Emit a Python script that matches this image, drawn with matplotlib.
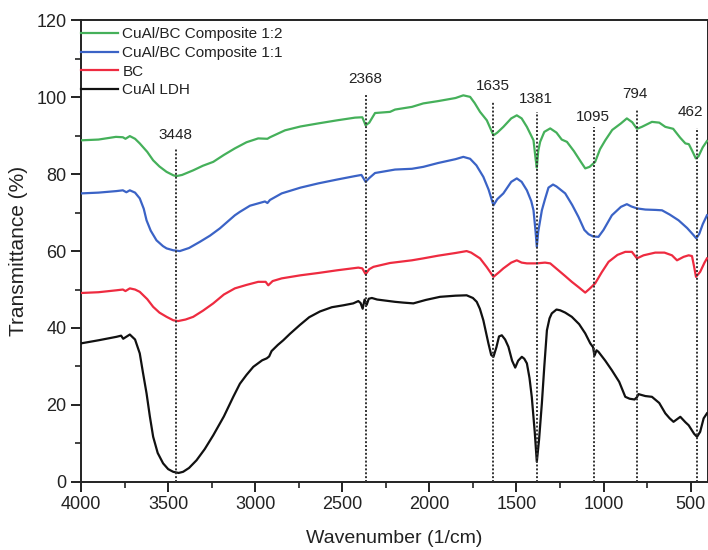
import matplotlib
matplotlib.use("Agg")
import matplotlib.pyplot as plt
from matplotlib.ticker import MultipleLocator

plt.rcParams['font.family'] = ['Liberation Sans', 'DejaVu Sans']

# ---------------- data ----------------
green_x = [4000, 3900, 3800, 3760, 3745, 3720, 3690, 3663, 3620, 3586, 3550, 3509, 3470, 3452, 3420,
           3356, 3300, 3241, 3180, 3117, 3050, 2983, 2930, 2915, 2829, 2740, 2638, 2530, 2427, 2385,
           2366, 2345, 2312, 2226, 2197, 2100, 2035, 1950, 1850, 1805, 1766, 1740, 1709, 1670, 1632,
           1610, 1575, 1530, 1498, 1470, 1440, 1415, 1402, 1390, 1383, 1375, 1364, 1340, 1306, 1270,
           1240, 1210, 1170, 1130, 1105, 1080, 1048, 1020, 990, 950, 900, 866, 835, 808, 780, 722,
           680, 645, 600, 560, 530, 510, 490, 470, 455, 430, 406]
green_y = [88.8, 89.0, 89.7, 89.6, 89.2, 89.9, 89.2, 88.0, 85.8, 83.6, 82.0, 80.6, 79.7, 79.5, 79.8,
           81.0, 82.2, 83.2, 85.0, 86.7, 88.3, 89.3, 89.2, 89.6, 91.4, 92.4, 93.2, 94.0, 94.7, 94.8,
           92.7, 93.4, 95.9, 96.2, 96.8, 97.5, 98.4, 99.0, 99.8, 100.5, 100.1, 98.5, 96.2, 94.0, 90.1,
           90.8, 92.3, 94.5, 95.3, 94.5, 92.3, 90.0, 88.8, 84.0, 81.7, 86.0, 88.4, 91.0, 91.9, 90.8,
           89.0, 88.4, 86.0, 83.2, 81.5, 81.9, 83.2, 86.5, 88.8, 91.5, 93.2, 94.5, 93.5, 91.8, 92.3, 93.6,
           93.4, 92.3, 91.8, 89.5, 88.0, 87.8, 86.0, 84.1, 84.6, 87.0, 88.6]

blue_x = [4000, 3900, 3797, 3760, 3740, 3720, 3690, 3663, 3640, 3624, 3600, 3567, 3530, 3509, 3470,
          3433, 3380, 3318, 3260, 3203, 3150, 3117, 3088, 3030, 2944, 2930, 2915, 2848, 2740, 2638,
          2530, 2427, 2390, 2366, 2345, 2312, 2197, 2100, 2035, 1950, 1850, 1805, 1766, 1730, 1690,
          1660, 1632, 1610, 1575, 1530, 1498, 1470, 1440, 1415, 1402, 1390, 1383, 1375, 1354, 1336,
          1316, 1290, 1270, 1220, 1180, 1144, 1110, 1086, 1060, 1029, 1000, 952, 900, 866, 840, 808,
          760, 700, 664, 620, 569, 520, 490, 467, 450, 430, 406]
blue_y = [75.0, 75.2, 75.6, 75.8, 75.3, 75.8, 75.2, 73.7, 71.0, 68.0, 65.3, 62.8, 61.3, 60.7, 60.2,
          60.0, 60.8, 62.4, 64.0, 65.9, 68.0, 69.3, 70.2, 71.8, 72.9, 72.5, 73.3, 75.0, 76.5, 77.6,
          78.6, 79.5, 79.8, 78.0, 79.0, 80.3, 81.2, 81.4, 81.9, 82.9, 83.9, 84.5, 84.0, 82.3, 79.3,
          76.0, 71.9, 73.5, 75.0, 78.0, 78.9, 78.0, 75.8, 73.0, 70.6, 65.0, 61.1, 65.0, 70.6, 73.5,
          76.5, 77.3, 76.8, 75.0, 72.0, 68.9, 65.5, 64.4, 63.8, 63.7, 65.5, 69.3, 71.5, 72.2, 71.6, 71.1,
          70.8, 70.7, 70.6, 69.5, 68.0, 66.0, 64.5, 63.3, 64.5, 67.0, 69.3]

red_x = [4000, 3900, 3797, 3760, 3745, 3720, 3690, 3663, 3620, 3586, 3550, 3509, 3470, 3443, 3400,
         3356, 3300, 3241, 3180, 3117, 3050, 2983, 2940, 2925, 2900, 2848, 2740, 2638, 2530, 2408,
         2385, 2366, 2345, 2321, 2226, 2100, 2035, 1950, 1850, 1786, 1760, 1709, 1670, 1632, 1600,
         1575, 1530, 1498, 1470, 1440, 1383, 1336, 1306, 1259, 1220, 1182, 1140, 1105, 1080, 1048,
         1010, 971, 920, 875, 837, 808, 770, 703, 650, 607, 578, 540, 511, 492, 480, 469, 445, 420, 406]
red_y = [49.1, 49.3, 49.8, 50.0, 49.6, 50.3, 50.0, 49.4, 47.5, 45.5, 44.0, 42.9, 42.0, 41.8, 42.2,
         42.9, 44.5, 46.4, 48.7, 50.3, 51.2, 52.0, 52.0, 51.1, 52.2, 52.9, 53.7, 54.3, 55.0, 55.7,
         55.5, 54.0, 55.3, 55.9, 56.9, 57.6, 58.1, 58.8, 59.5, 60.0, 59.6, 58.1, 55.8, 53.3, 54.5,
         55.5, 57.0, 57.6, 57.0, 56.8, 56.8, 57.0, 56.8, 55.0, 53.5, 52.0, 50.5, 49.2, 50.2, 51.6,
         54.5, 57.2, 59.0, 59.8, 59.8, 58.1, 58.9, 59.6, 59.6, 58.9, 57.6, 58.5, 58.9, 58.7, 56.0,
         53.3, 54.6, 57.0, 58.1]

black_x = [4000, 3900, 3797, 3770, 3758, 3720, 3690, 3663, 3645, 3624, 3605, 3586, 3560, 3529, 3500,
           3471, 3440, 3414, 3380, 3337, 3290, 3241, 3180, 3126, 3088, 3050, 3011, 2960, 2934, 2920,
           2906, 2870, 2839, 2800, 2743, 2690, 2628, 2560, 2494, 2437, 2408, 2395, 2383, 2372, 2360,
           2348, 2330, 2300, 2197, 2150, 2092, 2020, 1939, 1850, 1786, 1750, 1728, 1710, 1690, 1661,
           1645, 1632, 1615, 1600, 1584, 1565, 1546, 1525, 1507, 1490, 1469, 1455, 1440, 1425, 1412,
           1395, 1383, 1370, 1354, 1340, 1325, 1310, 1297, 1270, 1249, 1220, 1182, 1140, 1105, 1076,
           1060, 1052, 1040, 1029, 990, 952, 910, 875, 850, 822, 808, 799, 760, 722, 680, 645, 620,
           598, 559, 530, 511, 480, 463, 445, 425, 406]
black_y = [36.0, 36.8, 37.7, 38.0, 37.2, 38.3, 37.0, 33.4, 28.5, 23.0, 17.0, 11.7, 7.5, 4.8, 3.3,
           2.6, 2.3, 2.6, 3.6, 5.6, 8.5, 12.1, 17.0, 22.1, 25.5, 27.8, 29.9, 31.6, 32.1, 32.6,
           34.0, 35.6, 36.8, 38.5, 40.8, 42.8, 44.3, 45.4, 45.9, 46.4, 47.0, 46.5, 45.0, 47.4, 46.0,
           47.6, 47.8, 47.4, 46.8, 46.6, 46.4, 47.3, 48.1, 48.4, 48.5, 47.8, 46.8, 45.0, 42.0, 36.0,
           33.0, 32.5, 35.0, 37.8, 38.1, 37.0, 35.1, 31.5, 29.7, 31.5, 32.5, 32.0, 30.8, 27.0, 22.1,
           13.0, 5.2, 11.0, 20.4, 30.0, 39.4, 42.5, 43.8, 44.8, 44.6, 44.0, 42.9, 41.0, 38.6, 36.0,
           35.0, 32.8, 34.2, 33.8, 31.5, 29.0, 26.0, 22.1, 21.6, 21.4, 22.0, 22.8, 22.3, 22.1, 20.5,
           17.8, 16.5, 15.6, 16.9, 15.5, 14.7, 12.5, 11.7, 13.0, 16.5, 17.8]

series_labels = ["CuAl/BC Composite 1:2", "CuAl/BC Composite 1:1", "BC", "CuAl LDH"]

peak_labels = ["3448", "2368", "1635", "1381", "1095", "794", "462"]
peak_pos = [3456, 2366, 1636, 1383, 1052, 808, 463]
peak_line_top = [86.8, 100.5, 99.0, 96.2, 92.3, 97.0, 92.1]
peak_text_x = [3456, 2369, 1634, 1390, 1060, 818, 500]
peak_text_y = [88.3, 102.8, 101.0, 97.6, 93.0, 99.0, 94.4]

x_ticks = [4000, 3500, 3000, 2500, 2000, 1500, 1000, 500]
y_ticks = [0, 20, 40, 60, 80, 100, 120]

# ---------------- figure ----------------
fig = plt.figure(figsize=(7.08, 5.5), dpi=100)
ax = fig.add_axes([0.1145, 0.124, 0.8855, 0.839])

colors = ['#45b05a', '#3b63c6', '#ee2b40', '#111111']
for xs, ys, c, lab in zip([green_x, blue_x, red_x, black_x],
                          [green_y, blue_y, red_y, black_y],
                          colors, series_labels):
    ax.plot(xs, ys, color=c, lw=1.6, label=lab, solid_joinstyle='round', zorder=3)

for pos, top, tx, ty, lab in zip(peak_pos, peak_line_top, peak_text_x, peak_text_y, peak_labels):
    ax.plot([pos, pos], [0, top], color='#333333', lw=1.4, linestyle=(0, (1.0, 1.0)), zorder=4)
    ax.text(tx, ty, lab, ha='center', va='bottom', fontsize=11, color='#222222')

ax.set_xlim(4000, 400)
ax.set_ylim(0, 120)
ax.set_xticks(x_ticks)
ax.set_yticks(y_ticks)
ax.xaxis.set_minor_locator(MultipleLocator(250))
ax.yaxis.set_minor_locator(MultipleLocator(10))
ax.tick_params(which='major', direction='out', length=7, width=1.4, labelsize=13,
               colors='#222222', top=False, right=False)
ax.tick_params(which='minor', direction='out', length=4, width=1.2, top=False, right=False,
               colors='#222222')
for s in ax.spines.values():
    s.set_linewidth(1.4)
    s.set_color('#222222')

ax.set_xlabel("Wavenumber (1/cm)", fontsize=14, color='#222222', labelpad=12)
ax.set_ylabel("Transmittance (%)", fontsize=15, color='#222222', labelpad=6)

leg = ax.legend(loc='upper left', bbox_to_anchor=(0.0, 0.985), frameon=False, fontsize=11,
                handlelength=2.4, handletextpad=0.3, labelspacing=0.31, borderaxespad=0.0,
                borderpad=0.0)
for t in leg.get_texts():
    t.set_color('#222222')

fig.savefig("out.png", dpi=100)
